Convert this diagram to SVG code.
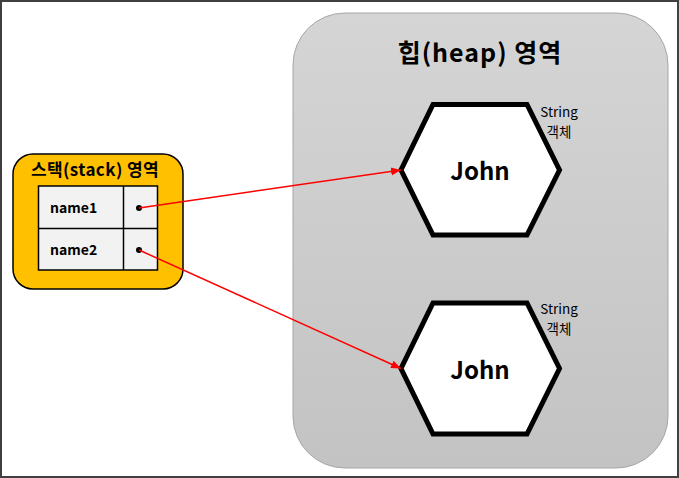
<svg xmlns="http://www.w3.org/2000/svg" width="679" height="478" viewBox="0 0 679 478">
<defs>
<linearGradient id="heapGrad" x1="0" y1="0" x2="0" y2="1">
<stop offset="0" stop-color="#d5d5d5"/>
<stop offset="1" stop-color="#c3c3c3"/>
</linearGradient>
<marker id="arr" viewBox="0 0 10 10" refX="10" refY="5" markerWidth="10" markerHeight="10" markerUnits="userSpaceOnUse" orient="auto">
<path d="M0,1 L10,5 L0,9 Z" fill="#ff0000"/>
</marker>
<style>
.t{font-family:"Noto Sans CJK KR","Noto Sans",sans-serif;}
.b{font-weight:bold;}
.hex{fill:#ffffff;stroke:#000000;stroke-width:5;stroke-linejoin:miter;}
.lbl{font-size:13.5px;fill:#000;}
.john{font-size:24px;font-weight:bold;fill:#000;}
.conn{stroke:#ff0000;stroke-width:1.5;fill:none;marker-end:url(#arr);}
</style>
</defs>
<rect x="0" y="0" width="679" height="478" fill="#ffffff"/>
<rect x="1" y="1" width="677" height="476" fill="none" stroke="#404040" stroke-width="2"/>
<g id="heap">
<rect x="293" y="13" width="375" height="455" rx="52" ry="52" fill="url(#heapGrad)" stroke="#a6a6a6" stroke-width="1"/>
<text class="t b" x="480" y="62" font-size="25" letter-spacing="1" text-anchor="middle">힙(heap) 영역</text>
</g>
<g id="stack">
<rect x="13" y="154" width="170" height="135" rx="20" ry="20" fill="#ffc000" stroke="#000" stroke-width="1.5"/>
<text class="t b" x="95" y="176" font-size="17" letter-spacing="0.4" text-anchor="middle">스택(stack) 영역</text>
<rect x="38.5" y="186" width="119" height="84" fill="#f2f2f2" stroke="#000" stroke-width="1.5"/>
<line x1="123.5" y1="186" x2="123.5" y2="270" stroke="#000" stroke-width="1.5"/>
<line x1="38.5" y1="228.5" x2="157.5" y2="228.5" stroke="#000" stroke-width="1.5"/>
<text class="t b" x="50" y="213" font-size="14">name1</text>
<text class="t b" x="50" y="255" font-size="14">name2</text>
<circle cx="139" cy="208" r="3" fill="#000"/>
<circle cx="139" cy="250" r="3" fill="#000"/>
</g>
<g id="string1">
<polygon class="hex" points="433,104.5 527,104.5 559.5,170 527,235 433,235 401,170"/>
<text class="t john" x="480" y="180" text-anchor="middle">John</text>
<text class="t lbl" x="559" y="117" text-anchor="middle">String</text>
<text class="t lbl" x="559" y="137" text-anchor="middle">객체</text>
</g>
<g id="string2">
<polygon class="hex" points="433,303 527,303 559.5,368.5 527,434 433,434 401,368.5"/>
<text class="t john" x="480" y="379" text-anchor="middle">John</text>
<text class="t lbl" x="559" y="314" text-anchor="middle">String</text>
<text class="t lbl" x="559" y="334" text-anchor="middle">객체</text>
</g>
<g id="connectors">
<line class="conn" x1="139" y1="208" x2="401" y2="170"/>
<line class="conn" x1="139" y1="250" x2="401" y2="368.5"/>
</g>
</svg>
